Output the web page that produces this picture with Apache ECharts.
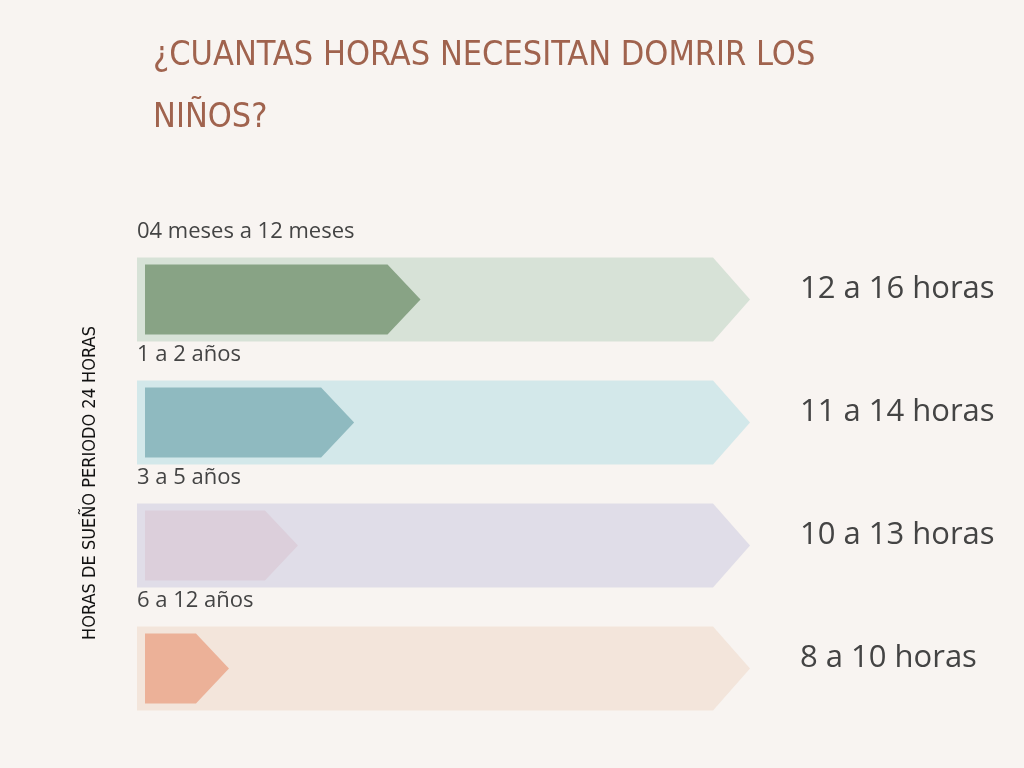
<!DOCTYPE html>
<html><head><meta charset="utf-8">
<script src="https://cdn.jsdelivr.net/npm/echarts@6/dist/echarts.min.js"></script>
<style>html,body{margin:0;background:#f8f4f1}#c{width:1024px;height:768px}</style>
</head><body><div id="c"></div>
<script>
const ages = ['04 meses a 12 meses', '1 a 2 años', '3 a 5 años', '6 a 12 años']
const hours = ['12 a 16 horas', '11 a 14 horas', '10 a 13 horas', '8 a 10 horas']
const fullValue = 24
const values = [11.1, 8.5, 6.3, 3.6]
const trackColors = ['#d7e2d7', '#d3e8ea', '#e0dde8', '#f3e5db']
const barColors = ['#88a385', '#8fbac0', '#dccfdb', '#ecb198']

function arrow(x0, x1, yc, h, tip) {
	return [[x0, yc - h / 2], [x1 - tip, yc - h / 2], [x1, yc], [x1 - tip, yc + h / 2], [x0, yc + h / 2]]
}

const chart = echarts.init(document.getElementById('c'))
chart.setOption({
	backgroundColor: '#f8f4f1',
	title: {
		text: '¿CUANTAS HORAS NECESITAN DOMRIR LOS\nNIÑOS?',
		left: 148, top: 20,
		textStyle: { fontFamily: 'DejaVu Sans Condensed', fontWeight: 'normal', fontSize: 34, lineHeight: 62, color: '#a0634e' }
	},
	grid: { left: 137, width: 613, top: 237, bottom: 39 },
	xAxis: { type: 'value', min: 0, max: fullValue, show: false },
	yAxis: {
		type: 'category', data: ages, inverse: true,
		axisLine: { show: false }, axisTick: { show: false }, axisLabel: { show: false }, splitLine: { show: false },
		name: 'HORAS DE SUEÑO PERIODO 24 HORAS', nameLocation: 'middle', nameGap: 38, nameRotate: 90,
		nameTextStyle: { fontFamily: 'DejaVu Sans Condensed', fontSize: 18, color: '#111' }
	},
	series: [{
		type: 'custom',
		data: values.map((v, i) => [v, i]),
		renderItem: (params, api) => {
			const i = api.value(1)
			const start = api.coord([0, i])
			const end = api.coord([fullValue, i])
			const bar = api.coord([api.value(0), i])
			const yc = start[1] + 1
			return {
				type: 'group',
				children: [
					{ type: 'polygon', shape: { points: arrow(start[0], end[0], yc, 84, 37) }, style: { fill: trackColors[i] } },
					{ type: 'polygon', shape: { points: arrow(start[0] + 8, bar[0], yc, 70, 33) }, style: { fill: barColors[i] } },
					{ type: 'text', style: { text: ages[i], x: start[0], y: yc - 68, verticalAlign: 'middle', fontFamily: 'Open Sans', fontSize: 22, fill: '#444' } },
					{ type: 'text', style: { text: hours[i], x: 800, y: yc - 10, verticalAlign: 'middle', fontFamily: 'Open Sans', fontSize: 31, fill: '#444' } }
				]
			}
		}
	}]
})
</script></body></html>
